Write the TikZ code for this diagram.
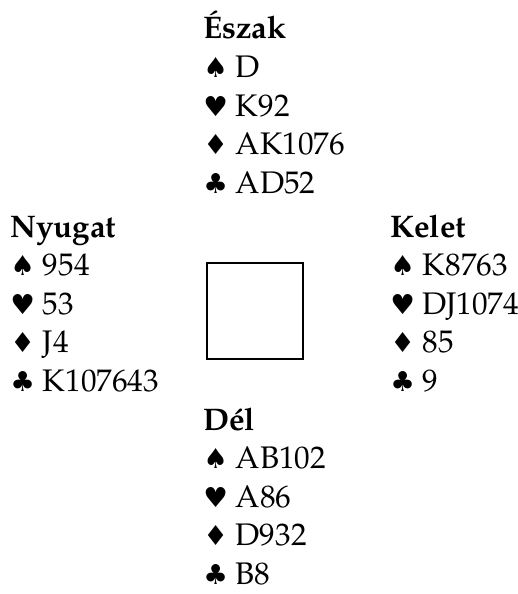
\documentclass[tikz,border=0pt]{standalone}
\usepackage{fontspec}
\setmainfont{TeX Gyre Pagella}
\newfontfamily\suitfont{DejaVu Sans}[Scale=0.88]
\usetikzlibrary{positioning}
\newcommand{\suit}[1]{{\suitfont #1}}
\tikzset{
  handline/.style={anchor=base west, inner sep=0pt, font=\fontsize{15.6}{18}\selectfont},
  handtitle/.style={handline, font=\fontsize{15.6}{18}\selectfont\bfseries},
  tablebox/.style={draw, line width=0.6pt, minimum size=48pt, inner sep=0pt}
}
% one hand: name, x, y, title, spades, hearts, diamonds, clubs
\newcommand{\hand}[8]{%
  \node[handtitle] (#1-0) at (#2,#3) {#4};
  \node[handline] (#1-1) at (#2,#3+38.5) {\suit{♠} #5};
  \node[handline] (#1-2) at (#2,#3+77) {\suit{♥} #6};
  \node[handline] (#1-3) at (#2,#3+115.5) {\suit{♦} #7};
  \node[handline] (#1-4) at (#2,#3+154) {\suit{♣} #8};
}

\begin{document}
\begin{tikzpicture}[x=0.5pt, y=-0.5pt]
  \useasboundingbox (0,0) rectangle (518,594);

  \hand{north}{203}{39}{Észak}{D}{K92}{AK1076}{AD52}
  \hand{west}{10}{237}{Nyugat}{954}{53}{J4}{K107643}
  \hand{east}{390}{237}{Kelet}{K8763}{DJ1074}{85}{9}
  \hand{south}{203}{430}{Dél}{AB102}{A86}{D932}{B8}

  \node[tablebox] (table) at (255,311) {};
\end{tikzpicture}
\end{document}
